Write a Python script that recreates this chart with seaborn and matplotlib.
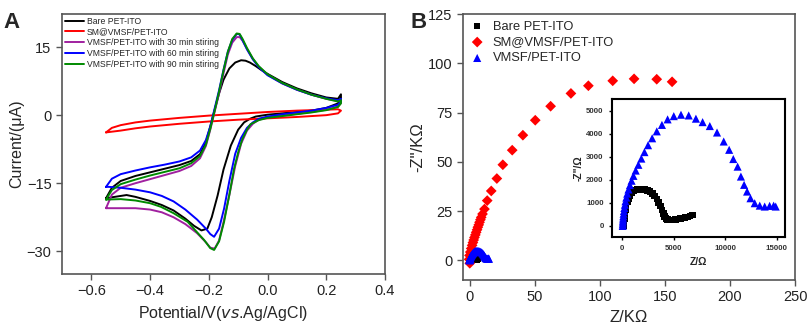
import numpy as np
import pandas as pd
import matplotlib
matplotlib.use("Agg")
import matplotlib.pyplot as plt
import seaborn as sns

# ---- Panel A: cyclic voltammograms (potential V, current uA)
bare_fwd_v = [-0.55, -0.53, -0.50, -0.45, -0.40, -0.35, -0.30, -0.26, -0.23, -0.21, -0.195, -0.18, -0.165, -0.15, -0.13, -0.11, -0.09, -0.075, -0.06, -0.04, -0.02, 0.0, 0.05, 0.10, 0.15, 0.20, 0.24, 0.25]
bare_fwd_i = [-18.3, -16.0, -14.5, -13.4, -12.6, -11.8, -11.0, -10.1, -8.6, -6.0, -2.5, 1.2, 4.8, 7.8, 10.3, 11.6, 12.1, 12.0, 11.6, 10.8, 9.9, 9.1, 7.3, 5.9, 4.8, 3.9, 3.6, 4.6]
bare_rev_v = [0.25, 0.24, 0.20, 0.15, 0.10, 0.05, 0.0, -0.04, -0.06, -0.08, -0.10, -0.125, -0.15, -0.17, -0.19, -0.205, -0.225, -0.25, -0.28, -0.32, -0.36, -0.40, -0.45, -0.48, -0.51, -0.55]
bare_rev_i = [3.8, 2.6, 1.6, 1.0, 0.7, 0.4, 0.1, -0.3, -0.8, -1.6, -3.2, -6.7, -12.0, -17.7, -22.5, -25.0, -25.4, -24.4, -22.8, -21.0, -19.8, -18.9, -18.0, -17.6, -17.9, -18.3]

sm_fwd_v = [-0.55, -0.53, -0.50, -0.45, -0.40, -0.30, -0.20, -0.10, 0.0, 0.10, 0.20, 0.24, 0.25]
sm_fwd_i = [-3.8, -2.8, -2.2, -1.6, -1.2, -0.6, -0.1, 0.3, 0.7, 1.0, 1.2, 1.3, 1.0]
sm_rev_v = [0.25, 0.24, 0.20, 0.10, 0.0, -0.10, -0.20, -0.30, -0.40, -0.45, -0.50, -0.55]
sm_rev_i = [1.0, 0.4, 0.0, -0.4, -0.7, -1.0, -1.4, -1.9, -2.5, -2.9, -3.4, -3.8]

s30_fwd_v = [-0.55, -0.53, -0.50, -0.45, -0.40, -0.35, -0.30, -0.26, -0.23, -0.21, -0.195, -0.18, -0.165, -0.15, -0.135, -0.12, -0.105, -0.095, -0.085, -0.07, -0.05, -0.03, 0.0, 0.05, 0.10, 0.15, 0.20, 0.24, 0.25]
s30_fwd_i = [-20.5, -17.5, -16.0, -15.0, -14.1, -13.2, -12.3, -11.2, -9.5, -6.8, -3.2, 0.8, 4.8, 9.2, 13.4, 16.0, 17.2, 17.2, 16.4, 14.6, 12.4, 10.7, 8.9, 7.0, 5.6, 4.5, 3.6, 3.1, 3.4]
s30_rev_v = [0.25, 0.24, 0.20, 0.15, 0.10, 0.05, 0.0, -0.03, -0.05, -0.07, -0.09, -0.11, -0.13, -0.15, -0.165, -0.18, -0.195, -0.21, -0.24, -0.28, -0.32, -0.36, -0.40, -0.45, -0.50, -0.55]
s30_rev_i = [2.7, 1.9, 1.2, 0.7, 0.3, -0.1, -0.5, -1.0, -1.9, -3.4, -6.3, -11.2, -17.6, -23.6, -27.6, -29.4, -29.2, -28.0, -26.0, -24.0, -22.5, -21.4, -20.8, -20.5, -20.5, -20.5]

s60_fwd_v = [-0.55, -0.53, -0.50, -0.45, -0.40, -0.35, -0.30, -0.26, -0.23, -0.21, -0.195, -0.18, -0.165, -0.15, -0.135, -0.12, -0.105, -0.095, -0.085, -0.07, -0.05, -0.03, 0.0, 0.05, 0.10, 0.15, 0.20, 0.24, 0.25]
s60_fwd_i = [-15.8, -14.0, -13.0, -12.2, -11.5, -10.9, -10.2, -9.3, -7.8, -5.5, -2.5, 1.5, 5.5, 10.0, 14.0, 16.6, 17.9, 17.8, 16.5, 14.5, 12.3, 10.6, 8.8, 7.0, 5.6, 4.5, 3.7, 3.3, 3.6]
s60_rev_v = [0.25, 0.24, 0.20, 0.15, 0.10, 0.05, 0.0, -0.03, -0.05, -0.07, -0.09, -0.11, -0.13, -0.148, -0.165, -0.182, -0.195, -0.21, -0.24, -0.28, -0.32, -0.36, -0.40, -0.45, -0.50, -0.54, -0.55]
s60_rev_i = [3.0, 2.3, 1.6, 1.0, 0.6, 0.2, -0.3, -0.8, -1.6, -2.8, -5.0, -8.5, -14.5, -20.6, -25.0, -26.8, -26.2, -25.0, -23.0, -20.8, -19.0, -17.8, -17.0, -16.4, -16.0, -15.8, -15.8]

s90_fwd_v = [-0.55, -0.53, -0.50, -0.45, -0.40, -0.35, -0.30, -0.26, -0.23, -0.21, -0.195, -0.18, -0.165, -0.15, -0.135, -0.12, -0.105, -0.095, -0.085, -0.07, -0.05, -0.03, 0.0, 0.05, 0.10, 0.15, 0.20, 0.24, 0.25]
s90_fwd_i = [-18.6, -16.5, -15.2, -14.2, -13.3, -12.5, -11.7, -10.6, -9.0, -6.5, -3.0, 1.0, 5.2, 9.8, 14.0, 16.8, 18.0, 17.9, 16.8, 14.8, 12.5, 10.8, 9.0, 7.1, 5.7, 4.5, 3.6, 3.0, 3.3]
s90_rev_v = [0.25, 0.24, 0.20, 0.15, 0.10, 0.05, 0.0, -0.03, -0.058, -0.07, -0.086, -0.10, -0.114, -0.13, -0.148, -0.165, -0.182, -0.195, -0.216, -0.24, -0.272, -0.32, -0.363, -0.40, -0.45, -0.50, -0.55]
s90_rev_i = [2.6, 1.8, 1.1, 0.6, 0.2, -0.2, -0.6, -1.1, -2.0, -3.2, -5.3, -8.2, -11.8, -17.5, -23.5, -27.8, -29.7, -29.3, -27.5, -25.8, -23.5, -21.6, -20.2, -19.4, -18.8, -18.5, -18.6]

cv_labels = ["Bare PET-ITO", "SM@VMSF/PET-ITO", "VMSF/PET-ITO with 30 min stiring",
             "VMSF/PET-ITO with 60 min stiring", "VMSF/PET-ITO with 90 min stiring"]
cv_colors = ["black", "#ff0000", "#a0209f", "#0000ff", "#008a00"]

# ---- Panel B: Nyquist plots
sm_zr = [0.2, -0.3, 0.0, 0.6, 1.3, 2.0, 2.6, 3.2, 3.8, 4.5, 5.1, 5.8, 6.4, 7.1, 7.7, 8.4, 9.0, 10.0, 11.5, 13.6, 16.7, 21.0, 25.6, 32.8, 41.0, 50.5, 62.3, 77.9, 91.3, 110.0, 126.4, 143.8, 155.6]
sm_zi = [-1.5, 0.5, 2.5, 4.2, 6.0, 7.6, 9.0, 10.3, 11.6, 12.9, 14.2, 15.5, 16.8, 18.0, 19.3, 20.6, 21.8, 23.5, 26.0, 30.3, 35.2, 41.5, 48.5, 55.9, 63.5, 71.1, 78.2, 84.7, 88.6, 91.1, 92.1, 91.9, 90.6]

# inset data in ohm
bare_zr = [150, 170, 200, 240, 300, 380, 480, 600, 740, 900, 1080, 1280, 1500, 1740, 1980, 2220, 2460, 2700, 2930, 3150, 3350, 3530, 3700, 3850, 3990, 4120, 4250, 4400, 4570, 4760, 4970, 5190, 5420, 5650, 5880, 6110, 6340, 6570, 6800]
bare_zi = [0, 150, 320, 500, 690, 870, 1040, 1190, 1320, 1430, 1510, 1565, 1590, 1595, 1590, 1575, 1545, 1490, 1410, 1300, 1170, 1020, 860, 700, 550, 420, 330, 275, 255, 250, 260, 275, 295, 320, 345, 370, 395, 430, 470]

vmsf_zr = [40, 45, 55, 65, 80, 100, 125, 160, 200, 250, 310, 390, 480, 600, 740, 900, 1080, 1300, 1560, 1850, 2150, 2500, 2900, 3350, 3850, 4400, 5000, 5700, 6450, 7150, 7800, 8500, 9200, 9850, 10380, 10780, 11200, 11520, 11830, 12120, 12450, 12860, 13350, 13830, 14310, 14700, 14900]
vmsf_zi = [0, 70, 150, 230, 320, 420, 530, 650, 780, 920, 1070, 1230, 1400, 1580, 1770, 1960, 2170, 2400, 2650, 2920, 3200, 3500, 3800, 4100, 4380, 4620, 4760, 4820, 4790, 4650, 4500, 4330, 4050, 3660, 3300, 2900, 2570, 2140, 1780, 1490, 1200, 985, 880, 840, 870, 880, 840]

sns.set_style("ticks")
plt.rcParams["font.family"] = ["Liberation Sans", "DejaVu Sans"]
plt.rcParams["axes.edgecolor"] = "#555555"
plt.rcParams["xtick.color"] = "#555555"
plt.rcParams["ytick.color"] = "#555555"
plt.rcParams["xtick.labelcolor"] = "#222222"
plt.rcParams["ytick.labelcolor"] = "#222222"

fig = plt.figure(figsize=(8.09, 3.30), dpi=100)

# Panel A
axA = fig.add_axes([0.0766, 0.1697, 0.3993, 0.788])
curves = [(bare_fwd_v + bare_rev_v, bare_fwd_i + bare_rev_i),
          (sm_fwd_v + sm_rev_v, sm_fwd_i + sm_rev_i),
          (s30_fwd_v + s30_rev_v, s30_fwd_i + s30_rev_i),
          (s60_fwd_v + s60_rev_v, s60_fwd_i + s60_rev_i),
          (s90_fwd_v + s90_rev_v, s90_fwd_i + s90_rev_i)]
for (v, i), lab, col in zip(curves, cv_labels, cv_colors):
    df = pd.DataFrame({"E": v, "I": i})
    sns.lineplot(data=df, x="E", y="I", sort=False, estimator=None, ax=axA,
                 color=col, lw=1.4, label=lab)
axA.set_xlim(-0.7, 0.4)
axA.set_ylim(-35, 22.3)
axA.set_xticks([-0.6, -0.4, -0.2, 0.0, 0.2, 0.4])
axA.set_yticks([15, 0, -15, -30])
axA.tick_params(labelsize=10.5, length=4, width=1)
axA.set_xlabel("Potential/V($\\it{vs}$.Ag/AgCl)", fontsize=11.5)
axA.set_ylabel("Current/(μA)", fontsize=11.5, labelpad=2)
for sp in axA.spines.values():
    sp.set_linewidth(1.2)
axA.legend(loc="upper left", bbox_to_anchor=(0.0, 1.0), frameon=False, fontsize=6.2,
           handlelength=2.3, handletextpad=0.3, labelspacing=0.22, borderpad=0.3,
           borderaxespad=0.0)

# Panel B
axB = fig.add_axes([0.5723, 0.1515, 0.4104, 0.806])
df_bare = pd.DataFrame({"zr": np.array(bare_zr) / 1000, "zi": np.array(bare_zi) / 1000})
df_sm = pd.DataFrame({"zr": sm_zr, "zi": sm_zi})
df_vm = pd.DataFrame({"zr": np.array(vmsf_zr) / 1000, "zi": np.array(vmsf_zi) / 1000})
sns.scatterplot(data=df_bare, x="zr", y="zi", marker="s", s=18, color="black",
                edgecolor="none", ax=axB, label="Bare PET-ITO")
sns.scatterplot(data=df_sm, x="zr", y="zi", marker="D", s=30, color="#ff0000",
                edgecolor="none", ax=axB, label="SM@VMSF/PET-ITO")
sns.scatterplot(data=df_vm, x="zr", y="zi", marker="^", s=34, color="#0000ff",
                edgecolor="none", ax=axB, label="VMSF/PET-ITO")
axB.set_xlim(-5, 250)
axB.set_ylim(-10, 125)
axB.set_xticks([0, 50, 100, 150, 200, 250])
axB.set_yticks([0, 25, 50, 75, 100, 125])
axB.tick_params(labelsize=10.5, length=4, width=1)
axB.set_xlabel("Z/KΩ", fontsize=12)
axB.set_ylabel('-Z"/KΩ', fontsize=12, labelpad=2)
for sp in axB.spines.values():
    sp.set_linewidth(1.2)
axB.legend(loc="upper left", bbox_to_anchor=(0.0, 1.0), frameon=False, fontsize=9.3,
           handlelength=1.2, handletextpad=0.6, labelspacing=0.3, borderpad=0.3,
           borderaxespad=0.2)

# Inset
axI = fig.add_axes([0.7565, 0.2818, 0.2138, 0.418])
sns.scatterplot(x=bare_zr, y=bare_zi, marker="s", s=22, color="black",
                edgecolor="none", ax=axI)
sns.scatterplot(x=vmsf_zr, y=vmsf_zi, marker="^", s=34, color="#0000ff",
                edgecolor="none", ax=axI)
axI.set_xlim(-1000, 15800)
axI.set_ylim(-480, 5500)
axI.set_xticks([0, 5000, 10000, 15000])
axI.set_yticks([0, 1000, 2000, 3000, 4000, 5000])
axI.tick_params(labelsize=5.7, length=2.5, width=1, colors="black", labelcolor="#333333")
for lab in axI.get_xticklabels() + axI.get_yticklabels():
    lab.set_fontweight("bold")
axI.set_xlabel("Z/Ω", fontsize=7.5, fontweight="bold", labelpad=3)
axI.set_ylabel('-Z"/Ω', fontsize=7.5, fontweight="bold", labelpad=2)
for sp in axI.spines.values():
    sp.set_linewidth(1.5)
    sp.set_color("black")

fig.text(0.004, 0.965, "A", fontsize=16, fontweight="bold", va="top")
fig.text(0.508, 0.965, "B", fontsize=16, fontweight="bold", va="top")

fig.savefig("out.png", dpi=100)
